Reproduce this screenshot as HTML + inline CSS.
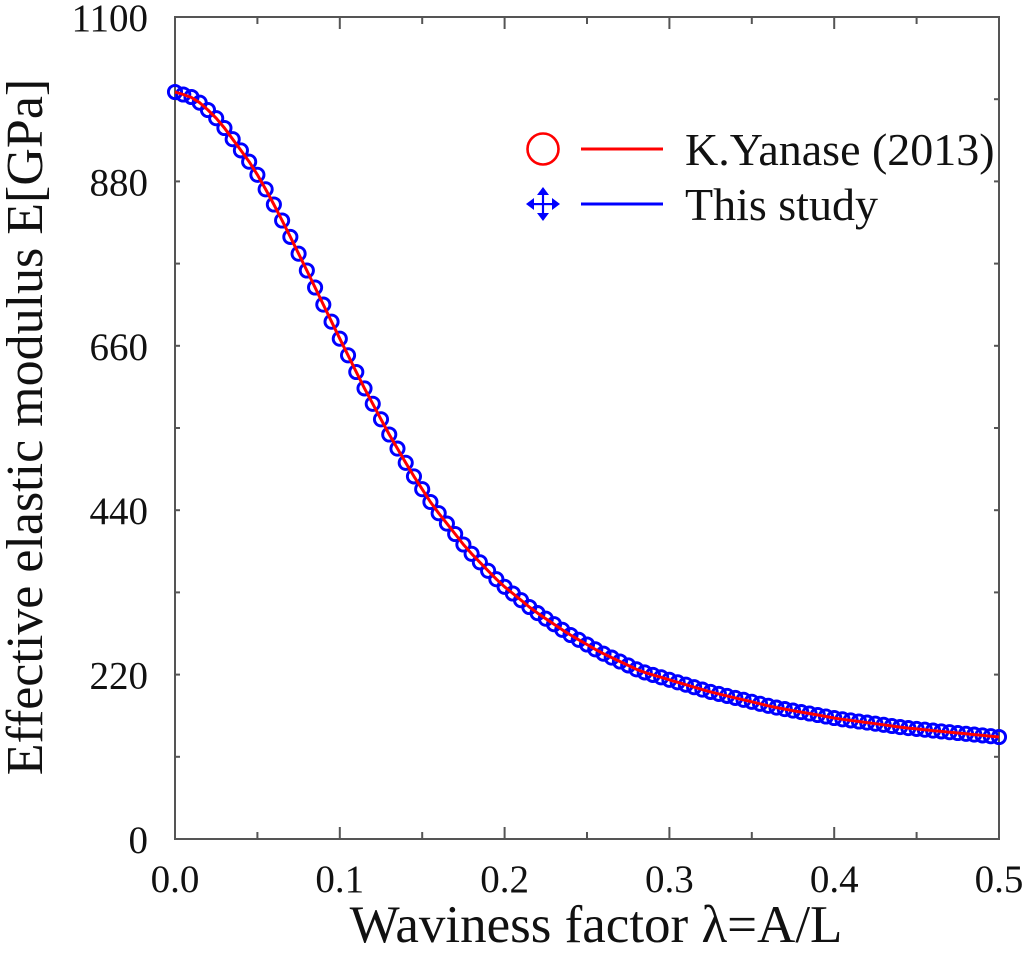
<!DOCTYPE html>
<html><head><meta charset="utf-8"><style>
html,body{margin:0;padding:0;background:#fff;}
svg{display:block;}
text{font-family:"Liberation Serif","DejaVu Serif",serif;fill:#111;}
</style></head><body>
<svg width="1024" height="957" viewBox="0 0 1024 957" xmlns="http://www.w3.org/2000/svg">
<rect width="1024" height="957" fill="#fff"/>
<!-- frame -->
<rect x="175" y="17" width="824" height="822" fill="none" stroke="#555" stroke-width="2"/>
<!-- x ticks bottom/top -->
<g stroke="#555" stroke-width="2">
<line x1="257.4" y1="839" x2="257.4" y2="832"/><line x1="339.8" y1="839" x2="339.8" y2="827"/>
<line x1="422.2" y1="839" x2="422.2" y2="832"/><line x1="504.6" y1="839" x2="504.6" y2="827"/>
<line x1="587" y1="839" x2="587" y2="832"/><line x1="669.4" y1="839" x2="669.4" y2="827"/>
<line x1="751.8" y1="839" x2="751.8" y2="832"/><line x1="834.2" y1="839" x2="834.2" y2="827"/>
<line x1="916.6" y1="839" x2="916.6" y2="832"/>
<line x1="257.4" y1="17" x2="257.4" y2="24"/><line x1="339.8" y1="17" x2="339.8" y2="29"/>
<line x1="422.2" y1="17" x2="422.2" y2="24"/><line x1="504.6" y1="17" x2="504.6" y2="29"/>
<line x1="587" y1="17" x2="587" y2="24"/><line x1="669.4" y1="17" x2="669.4" y2="29"/>
<line x1="751.8" y1="17" x2="751.8" y2="24"/><line x1="834.2" y1="17" x2="834.2" y2="29"/>
<line x1="916.6" y1="17" x2="916.6" y2="24"/>
<!-- y ticks -->
<line x1="175" y1="756.8" x2="180" y2="756.8"/><line x1="175" y1="674.6" x2="180" y2="674.6"/>
<line x1="175" y1="592.4" x2="180" y2="592.4"/><line x1="175" y1="510.2" x2="180" y2="510.2"/>
<line x1="175" y1="428" x2="180" y2="428"/><line x1="175" y1="345.8" x2="180" y2="345.8"/>
<line x1="175" y1="263.6" x2="180" y2="263.6"/><line x1="175" y1="181.4" x2="180" y2="181.4"/>
<line x1="175" y1="99.2" x2="180" y2="99.2"/>
<line x1="999" y1="756.8" x2="994" y2="756.8"/><line x1="999" y1="674.6" x2="994" y2="674.6"/>
<line x1="999" y1="592.4" x2="994" y2="592.4"/><line x1="999" y1="510.2" x2="994" y2="510.2"/>
<line x1="999" y1="428" x2="994" y2="428"/><line x1="999" y1="345.8" x2="994" y2="345.8"/>
<line x1="999" y1="263.6" x2="994" y2="263.6"/><line x1="999" y1="181.4" x2="994" y2="181.4"/>
<line x1="999" y1="99.2" x2="994" y2="99.2"/>
</g>
<!-- y tick labels -->
<g font-size="39" text-anchor="end">
<text x="148" y="853">0</text>
<text x="148" y="688.6">220</text>
<text x="148" y="524.2">440</text>
<text x="148" y="359.8">660</text>
<text x="148" y="195.4">880</text>
<text x="148" y="31">1100</text>
</g>
<!-- x tick labels -->
<g font-size="39" text-anchor="middle">
<text x="175" y="892">0.0</text>
<text x="339.8" y="892">0.1</text>
<text x="504.6" y="892">0.2</text>
<text x="669.4" y="892">0.3</text>
<text x="834.2" y="892">0.4</text>
<text x="999" y="892">0.5</text>
</g>
<!-- axis labels -->
<text x="596" y="942" font-size="53" text-anchor="middle">Waviness factor λ=A/L</text>
<text transform="translate(42,427) rotate(-90)" font-size="52" text-anchor="middle">Effective elastic modulus E[GPa]</text>

<!-- blue markers -->
<g fill="none" stroke="#0000ff" stroke-width="2.9">
<circle cx="175" cy="92" r="6.6"/><circle cx="183.24" cy="94.5" r="6.6"/><circle cx="191.48" cy="97" r="6.6"/><circle cx="199.72" cy="102.7" r="6.6"/><circle cx="207.96" cy="110" r="6.6"/><circle cx="216.2" cy="118.2" r="6.6"/><circle cx="224.44" cy="128" r="6.6"/><circle cx="232.68" cy="139.2" r="6.6"/><circle cx="240.92" cy="150.4" r="6.6"/><circle cx="249.16" cy="161.7" r="6.6"/>
<circle cx="257.4" cy="174.8" r="6.6"/><circle cx="265.64" cy="189.3" r="6.6"/><circle cx="273.88" cy="204.5" r="6.6"/><circle cx="282.12" cy="220.5" r="6.6"/><circle cx="290.36" cy="236.9" r="6.6"/><circle cx="298.6" cy="253.7" r="6.6"/><circle cx="306.84" cy="270.5" r="6.6"/><circle cx="315.08" cy="287.5" r="6.6"/><circle cx="323.32" cy="304.6" r="6.6"/><circle cx="331.56" cy="321.7" r="6.6"/>
<circle cx="339.8" cy="338.7" r="6.6"/><circle cx="348.04" cy="355.3" r="6.6"/><circle cx="356.28" cy="372" r="6.6"/><circle cx="364.52" cy="388.4" r="6.6"/><circle cx="372.76" cy="403.8" r="6.6"/><circle cx="381" cy="419.3" r="6.6"/><circle cx="389.24" cy="434.5" r="6.6"/><circle cx="397.48" cy="448.6" r="6.6"/><circle cx="405.72" cy="462.8" r="6.6"/><circle cx="413.96" cy="476.4" r="6.6"/>
<circle cx="422.2" cy="489.2" r="6.6"/><circle cx="430.44" cy="502" r="6.6"/><circle cx="438.68" cy="513.2" r="6.6"/><circle cx="446.92" cy="523.6" r="6.6"/><circle cx="455.16" cy="534" r="6.6"/><circle cx="463.4" cy="544.5" r="6.6"/><circle cx="471.64" cy="553.8" r="6.6"/><circle cx="479.88" cy="562.3" r="6.6"/><circle cx="488.12" cy="570.8" r="6.6"/><circle cx="496.36" cy="579.2" r="6.6"/>
<circle cx="504.6" cy="586.8" r="6.6"/><circle cx="512.84" cy="593.5" r="6.6"/><circle cx="521.08" cy="600.2" r="6.6"/><circle cx="529.32" cy="607" r="6.6"/><circle cx="537.56" cy="613.1" r="6.6"/><circle cx="545.8" cy="618.7" r="6.6"/><circle cx="554.04" cy="624.2" r="6.6"/><circle cx="562.28" cy="629.8" r="6.6"/><circle cx="570.52" cy="635" r="6.6"/><circle cx="578.76" cy="639.8" r="6.6"/>
<circle cx="587" cy="644.5" r="6.6"/><circle cx="595.24" cy="649.3" r="6.6"/><circle cx="603.48" cy="653.7" r="6.6"/><circle cx="611.72" cy="657.6" r="6.6"/><circle cx="619.96" cy="661.5" r="6.6"/><circle cx="628.2" cy="665.4" r="6.6"/><circle cx="636.44" cy="669.3" r="6.6"/><circle cx="644.68" cy="672.4" r="6.6"/><circle cx="652.92" cy="674.9" r="6.6"/><circle cx="661.16" cy="677.3" r="6.6"/>
<circle cx="669.4" cy="679.8" r="6.6"/><circle cx="677.64" cy="682.3" r="6.6"/><circle cx="685.88" cy="684.7" r="6.6"/><circle cx="694.12" cy="687.2" r="6.6"/><circle cx="702.36" cy="689.6" r="6.6"/><circle cx="710.6" cy="691.9" r="6.6"/><circle cx="718.84" cy="693.9" r="6.6"/><circle cx="727.08" cy="695.9" r="6.6"/><circle cx="735.32" cy="697.9" r="6.6"/><circle cx="743.56" cy="699.8" r="6.6"/>
<circle cx="751.8" cy="701.8" r="6.6"/><circle cx="760.04" cy="703.8" r="6.6"/><circle cx="768.28" cy="705.8" r="6.6"/><circle cx="776.52" cy="707.6" r="6.6"/><circle cx="784.76" cy="709.1" r="6.6"/><circle cx="793" cy="710.6" r="6.6"/><circle cx="801.24" cy="712.1" r="6.6"/><circle cx="809.48" cy="713.5" r="6.6"/><circle cx="817.72" cy="715" r="6.6"/><circle cx="825.96" cy="716.5" r="6.6"/>
<circle cx="834.2" cy="718" r="6.6"/><circle cx="842.44" cy="719.3" r="6.6"/><circle cx="850.68" cy="720.4" r="6.6"/><circle cx="858.92" cy="721.5" r="6.6"/><circle cx="867.16" cy="722.6" r="6.6"/><circle cx="875.4" cy="723.7" r="6.6"/><circle cx="883.64" cy="724.8" r="6.6"/><circle cx="891.88" cy="726" r="6.6"/><circle cx="900.12" cy="727.1" r="6.6"/><circle cx="908.36" cy="728.1" r="6.6"/>
<circle cx="916.6" cy="728.9" r="6.6"/><circle cx="924.84" cy="729.7" r="6.6"/><circle cx="933.08" cy="730.6" r="6.6"/><circle cx="941.32" cy="731.4" r="6.6"/><circle cx="949.56" cy="732.2" r="6.6"/><circle cx="957.8" cy="733" r="6.6"/><circle cx="966.04" cy="733.8" r="6.6"/><circle cx="974.28" cy="734.6" r="6.6"/><circle cx="982.52" cy="735.4" r="6.6"/><circle cx="990.76" cy="736.2" r="6.6"/>
<circle cx="999" cy="737" r="6.6"/>
</g>
<!-- red line -->
<polyline fill="none" stroke="#ff0000" stroke-width="3" stroke-linejoin="round" points="175,92 183.24,94.5 191.48,97.5 199.72,102.7 207.96,110 216.2,118.2 224.44,128 232.68,139.2 240.92,150.4 249.16,161.7 257.4,174.8 265.64,189.3 273.88,204.5 282.12,220.5 290.36,236.9 298.6,253.7 306.84,270.5 315.08,287.5 323.32,304.6 331.56,321.7 339.8,338.7 348.04,355.3 356.28,372 364.52,388.4 372.76,403.8 381,419.3 389.24,434.5 397.48,448.6 405.72,462.8 413.96,476.4 422.2,489.2 430.44,502 438.68,513.2 446.92,523.6 455.16,534 463.4,544.5 471.64,553.8 479.88,562.3 488.12,570.8 496.36,579.2 504.6,586.8 512.84,593.5 521.08,600.2 529.32,607 537.56,613.1 545.8,618.7 554.04,624.2 562.28,629.8 570.52,635 578.76,639.8 587,644.5 595.24,649.3 603.48,653.7 611.72,657.6 619.96,661.5 628.2,665.4 636.44,669.3 644.68,672.4 652.92,674.9 661.16,677.3 669.4,679.8 677.64,682.3 685.88,684.7 694.12,687.2 702.36,689.6 710.6,691.9 718.84,693.9 727.08,695.9 735.32,697.9 743.56,699.8 751.8,701.8 760.04,703.8 768.28,705.8 776.52,707.6 784.76,709.1 793,710.6 801.24,712.1 809.48,713.5 817.72,715 825.96,716.5 834.2,718 842.44,719.3 850.68,720.4 858.92,721.5 867.16,722.6 875.4,723.7 883.64,724.8 891.88,726 900.12,727.1 908.36,728.1 916.6,728.9 924.84,729.7 933.08,730.6 941.32,731.4 949.56,732.2 957.8,733 966.04,733.8 974.28,734.6 982.52,735.4 990.76,736.2 999,737"/>

<!-- legend -->
<circle cx="543" cy="149" r="15.5" fill="none" stroke="#ff0000" stroke-width="2.6"/>
<line x1="581" y1="149" x2="663" y2="149" stroke="#ff0000" stroke-width="3"/>
<text x="685" y="165" font-size="46">K.Yanase (2013)</text>
<g fill="#0000ff" stroke="none">
<rect x="528" y="203" width="30" height="2.2"/>
<rect x="541.9" y="189" width="2.2" height="30"/>
<polygon points="543,187 537,195 549,195"/>
<polygon points="543,221 537,213 549,213"/>
<polygon points="526,204 534,198 534,210"/>
<polygon points="560,204 552,198 552,210"/>
</g>
<line x1="581" y1="204" x2="663" y2="204" stroke="#0000ff" stroke-width="3"/>
<text x="685" y="220" font-size="46">This study</text>
</svg>
</body></html>
